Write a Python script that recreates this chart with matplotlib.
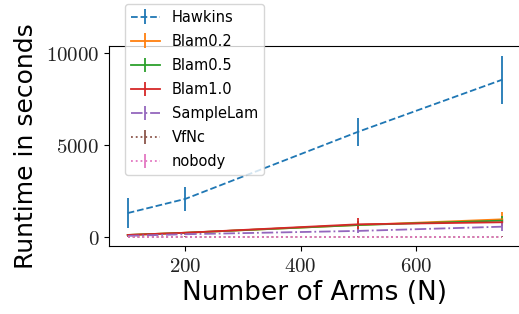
import matplotlib
matplotlib.use("Agg")
import matplotlib.pyplot as plt
from matplotlib.ticker import FuncFormatter

plt.rcParams["mathtext.fontset"] = "cm"

# -- Data ---------------------------------------------------------------------
arms = [100, 200, 500, 750]

labels = ["Hawkins", "Blam0.2", "Blam0.5", "Blam1.0", "SampleLam", "VfNc", "nobody"]
styles = ["--", "-", "-", "-", "-.", ":", ":"]

hawkins = [1300, 2070, 5720, 8550]
hawkins_err = [800, 650, 760, 1300]
blam02 = [110, 230, 650, 960]
blam02_err = [30, 40, 200, 380]
blam05 = [110, 230, 650, 890]
blam05_err = [30, 40, 200, 250]
blam10 = [110, 230, 690, 800]
blam10_err = [30, 40, 330, 200]
samplelam = [60, 150, 330, 560]
samplelam_err = [20, 40, 100, 230]
vfnc = [25, 25, 25, 25]
vfnc_err = [5, 5, 5, 5]
nobody = [20, 20, 20, 20]
nobody_err = [5, 5, 5, 5]

series = [hawkins, blam02, blam05, blam10, samplelam, vfnc, nobody]
errors = [hawkins_err, blam02_err, blam05_err, blam10_err,
          samplelam_err, vfnc_err, nobody_err]

# -- Figure -------------------------------------------------------------------
fig = plt.figure(figsize=(5.19, 3.14), dpi=100)
ax = fig.add_axes([109 / 519, 1 - 246 / 314, 412 / 519, 200 / 314])

for i, (lab, ls, y, e) in enumerate(zip(labels, styles, series, errors)):
    ax.errorbar(arms, y, yerr=e, label=lab, linestyle=ls, color=f"C{i}",
                linewidth=1.3, elinewidth=1.3)

ax.set_xlim(67.5, 782.5)
ax.set_ylim(-490, 10380)
ax.set_xticks([200, 400, 600])
ax.set_yticks([0, 5000, 10000])
fmt = FuncFormatter(lambda v, p: f"${v:g}$")
ax.xaxis.set_major_formatter(fmt)
ax.yaxis.set_major_formatter(fmt)
ax.tick_params(labelsize=15, color="black", labelcolor="#222222")
ax.spines["right"].set_visible(False)

ax.set_xlabel("Number of Arms (N)", fontsize=19, labelpad=3)
ax.set_ylabel("Runtime in seconds", fontsize=18, labelpad=6)

fig.legend(loc="upper left", bbox_to_anchor=(125 / 519, 1 - 4 / 314),
           bbox_transform=fig.transFigure, borderaxespad=0, fontsize=10.5,
           labelspacing=0.62)

fig.savefig("out.png", dpi=100)
